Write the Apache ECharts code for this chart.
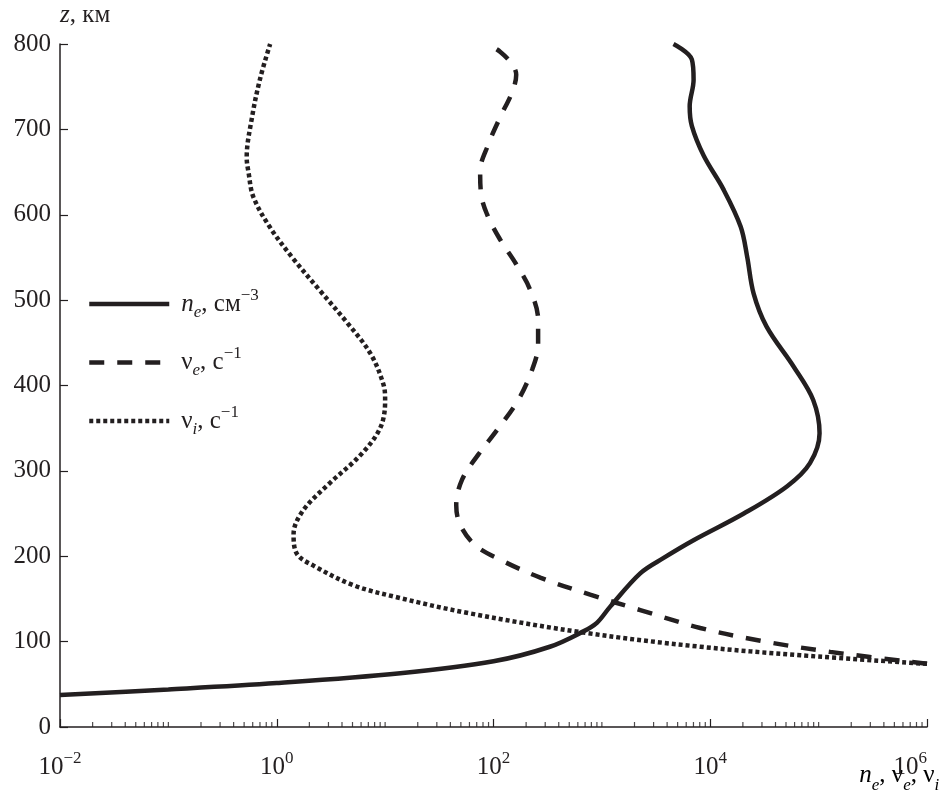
<!DOCTYPE html>
<html><head><meta charset="utf-8">
<script src="https://cdn.jsdelivr.net/npm/echarts@6/dist/echarts.min.js"></script>
<style>html,body{margin:0;padding:0;background:#fff}#c{width:946px;height:790px}</style>
</head><body><div id="c"></div>
<script>
// ---- data ----
// n_e, cm^-3 (x) vs altitude z, km
const neX = [0.01, 0.1, 1, 13.8, 100, 331, 676, 899, 1194, 2259, 3715, 7079, 20400, 51300, 83200, 102000, 89100, 58900, 33100, 25100, 21900, 19100, 13200, 8710, 6760, 6460, 7020, 6760, 4580];
const neZ = [37.5, 44, 51.5, 63, 77, 94, 112, 122, 141, 180, 198, 219, 250, 282, 309, 344, 383, 422, 469, 508, 551, 586, 630, 669, 704, 727, 758, 782, 800];
// nu_e, s^-1
const nueX = [1000000, 128000, 29000, 8090, 2260, 780, 270, 115, 67.8, 49.2, 45.3, 51.4, 72.3, 108, 169, 228, 258, 258, 218, 162, 115, 87.5, 76.9, 75.3, 89.3, 115, 149, 162, 149, 115, 87.5];
const nueZ = [74, 88, 101, 116, 137, 155, 175, 196, 213, 237, 260, 290, 319, 348, 383, 419, 448, 477, 512, 542, 571, 600, 624, 651, 682, 714, 744, 764, 776, 791, 800];
// nu_i, s^-1
const nuiX = [1000000, 67800, 8090, 728, 61.0, 12.8, 5.11, 2.18, 1.53, 1.43, 1.76, 3.10, 5.87, 8.99, 10.0, 9.66, 7.28, 4.43, 2.51, 1.43, 0.869, 0.608, 0.550, 0.528, 0.589, 0.701, 0.869];
const nuiZ = [74, 84, 94, 110, 133, 152, 166, 189, 203, 226, 254, 286, 318, 350, 382, 401, 438, 474, 511, 548, 585, 621, 649, 667, 713, 759, 800];
// axis ticks
const xLabelExponents = [-2, 0, 2, 4, 6];
const xMinorDecades = [-2, -1, 0, 1, 2, 3, 4, 5];
const yTicks = [0, 100, 200, 300, 400, 500, 600, 700, 800];

const C = '#231f20';
const FONT = '"Liberation Serif", "Times New Roman", serif';
const rich = {
  n: {fontFamily: FONT, fontSize: 25, lineHeight: 34, color: C},
  i: {fontFamily: FONT, fontSize: 25, lineHeight: 34, color: C, fontStyle: 'italic'},
  sup: {fontFamily: FONT, fontSize: 17, lineHeight: 20, color: C, verticalAlign: 'top'},
  isub: {fontFamily: FONT, fontSize: 17, lineHeight: 20, color: C, verticalAlign: 'bottom', fontStyle: 'italic'}
};
const richName = {
  n: {fontFamily: FONT, fontSize: 25, lineHeight: 24, color: C, verticalAlign: 'top'},
  i: {fontFamily: FONT, fontSize: 25, lineHeight: 24, color: C, fontStyle: 'italic', verticalAlign: 'top'},
  isub: {fontFamily: FONT, fontSize: 17, lineHeight: 14, color: C, verticalAlign: 'bottom', fontStyle: 'italic'},
  pad: {fontSize: 10, lineHeight: 31}
};

function zip(a, b) { return a.map((v, k) => [v, b[k]]); }

// minor tick positions (2..9 per decade, plus odd decades)
const minorTicks = [];
xMinorDecades.forEach(d => {
  for (let m = 1; m <= 9; m++) {
    if (m === 1 && d % 2 === 0) continue;
    minorTicks.push([m * Math.pow(10, d), 0]);
  }
});

const legendText = {
  ne: '{i|n}{isub|e}{n|, см}{sup|−3}',
  nue: '{n|ν}{isub|e}{n|, с}{sup|−1}',
  nui: '{n|ν}{isub|i}{n|, с}{sup|−1}'
};

const chart = echarts.init(document.getElementById('c'));
chart.setOption({
  animation: false,
  backgroundColor: '#fff',
  grid: {left: 60, right: 19, top: 44, bottom: 63, containLabel: false},
  legend: {
    orient: 'vertical', left: 82, top: 282, itemWidth: 80, itemHeight: 14, itemGap: 24.5,
    data: ['ne', 'nue', 'nui'],
    formatter: name => legendText[name],
    itemStyle: {opacity: 0},
    lineStyle: {width: 4.5},
    textStyle: {rich: rich, padding: [0, 0, 0, 7]}
  },
  xAxis: {
    type: 'log', logBase: 10, min: 0.01, max: 1000000, interval: 2,
    axisLine: {lineStyle: {color: C, width: 1.5}},
    axisTick: {inside: true, length: 8, lineStyle: {color: C, width: 1.2}},
    splitLine: {show: false},
    axisLabel: {
      margin: 23, alignMaxLabel: 'right',
      formatter: v => {
        const e = Math.round(Math.log10(v));
        if (xLabelExponents.indexOf(e) < 0) return '';
        return '{n|10}{sup|' + (e < 0 ? '−' + (-e) : e) + '}';
      },
      rich: rich
    }
  },
  yAxis: {
    type: 'value', min: 0, max: 800, interval: 100,
    name: '{i|z}{n|, км}', nameLocation: 'end', nameGap: 12,
    nameTextStyle: {align: 'left', rich: rich},
    axisLine: {show: true, lineStyle: {color: C, width: 1.5}},
    axisTick: {show: true, inside: true, length: 8, lineStyle: {color: C, width: 1.2}},
    splitLine: {show: false},
    axisLabel: {
      margin: 9, fontFamily: FONT, fontSize: 25, color: C,
      formatter: v => yTicks.indexOf(v) >= 0 ? String(v) : ''
    }
  },
  graphic: [{
    type: 'text', right: 4, top: 763,
    style: {text: '{i|n}{isub|e}{n|, ν}{isub|e}{n|, ν}{isub|i}{pad| }', rich: richName}
  }],
  series: [
    {name: 'ne', type: 'line', data: zip(neX, neZ), smooth: 0.35, symbol: 'none', z: 3,
     lineStyle: {color: C, width: 4.5, type: 'solid'}, itemStyle: {color: C}},
    {name: 'nue', type: 'line', data: zip(nueX, nueZ), smooth: 0.35, symbol: 'none', z: 2,
     lineStyle: {color: C, width: 4.5, type: [15, 13], cap: 'butt'}, itemStyle: {color: C}},
    {name: 'nui', type: 'line', data: zip(nuiX, nuiZ), smooth: 0.35, symbol: 'none', z: 2,
     lineStyle: {color: C, width: 4.5, type: [4, 3], cap: 'butt'}, itemStyle: {color: C}},
    {name: 'minor', type: 'scatter', data: minorTicks, symbol: 'rect', symbolSize: [1.2, 5],
     symbolOffset: [0, -2.5], clip: false, silent: true, z: 5, itemStyle: {color: C}}
  ]
});
</script></body></html>
